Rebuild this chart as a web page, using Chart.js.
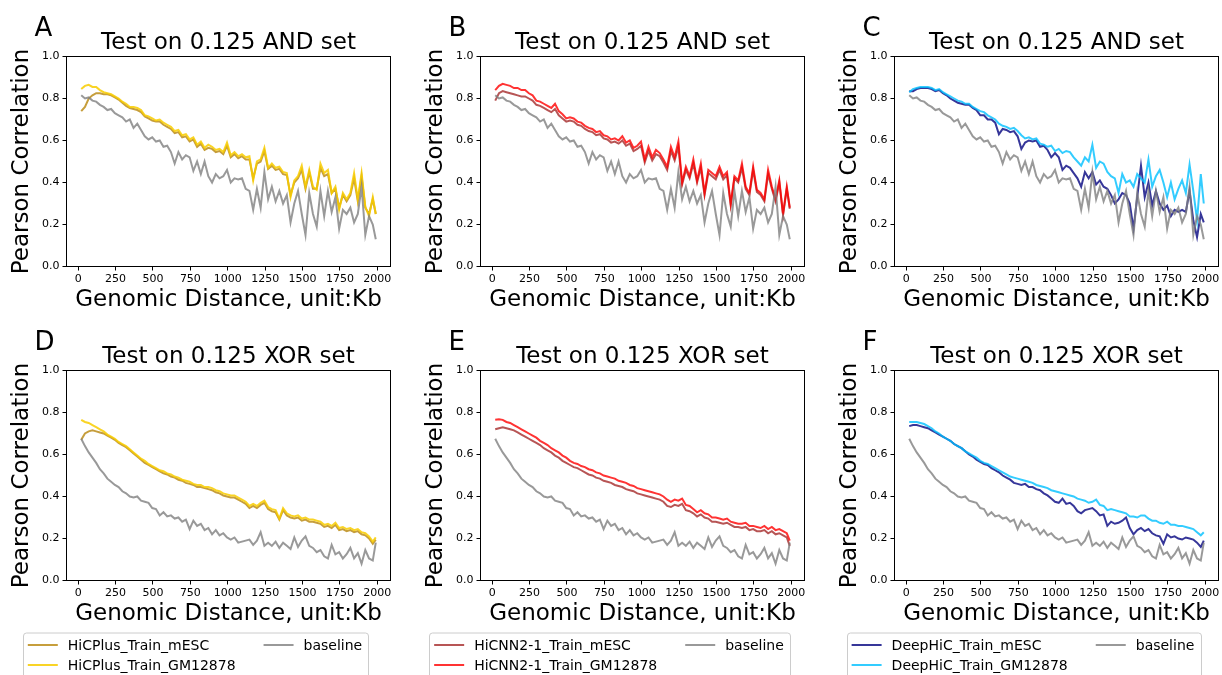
<!DOCTYPE html>
<html>
<head>
<meta charset="utf-8">
<script src="https://cdn.jsdelivr.net/npm/chart.js@4.4.1/dist/chart.umd.min.js"></script>
<style>
  body { margin: 0; background: #fff; }
  #fig { position: relative; width: 1222px; height: 675px; overflow: hidden; background: #fff; }
  #fig canvas { position: absolute; }
</style>
</head>
<body>
<div id="fig"></div>
<script>
// genomic distance (kb) of each sample
const DIST_KB = [20,45,70,95,120,145,170,195,220,245, 270,295,320,345,370,395,420,445,470,495,
  520,545,570,595,620,645,670,695,720,745, 770,795,820,845,870,895,920,945,970,995,
  1020,1045,1070,1095,1120,1145,1170,1195,1220,1245, 1270,1295,1320,1345,1370,1395,1420,1445,1470,1495,
  1520,1545,1570,1595,1620,1645,1670,1695,1720,1745, 1770,1795,1820,1845,1870,1895,1920,1945,1970,1990];

const X_TICKS = [0, 250, 500, 750, 1000, 1250, 1500, 1750, 2000];
const X_TICK_LABELS = ['0', '250', '500', '750', '1000', '1250', '1500', '1750', '2000'];
const Y_TICKS = [0, 0.2, 0.4, 0.6, 0.8, 1.0];
const Y_TICK_LABELS = ['0.0', '0.2', '0.4', '0.6', '0.8', '1.0'];

// AND set
const AND_BASELINE = [0.815,0.80,0.805,0.79,0.785,0.77,0.76,0.745,0.75,0.73,
  0.72,0.71,0.69,0.70,0.66,0.68,0.65,0.62,0.605,0.615,
  0.595,0.60,0.57,0.575,0.545,0.49,0.545,0.51,0.53,0.52,
  0.455,0.50,0.44,0.50,0.43,0.40,0.44,0.42,0.43,0.46,
  0.40,0.42,0.415,0.42,0.37,0.36,0.27,0.37,0.28,0.45,
  0.32,0.38,0.31,0.36,0.30,0.34,0.21,0.30,0.36,0.25,
  0.15,0.35,0.25,0.19,0.36,0.24,0.36,0.26,0.33,0.18,
  0.27,0.25,0.28,0.21,0.25,0.38,0.15,0.24,0.20,0.13];
const AND_HICPLUS_MESC = [0.74,0.76,0.80,0.815,0.825,0.825,0.82,0.82,0.815,0.805,
  0.795,0.78,0.765,0.755,0.75,0.745,0.735,0.715,0.705,0.695,
  0.69,0.69,0.675,0.665,0.655,0.635,0.64,0.615,0.62,0.595,
  0.605,0.57,0.585,0.555,0.565,0.56,0.545,0.55,0.535,0.575,
  0.52,0.535,0.515,0.525,0.51,0.51,0.42,0.49,0.50,0.55,
  0.465,0.48,0.46,0.465,0.44,0.435,0.34,0.40,0.42,0.46,
  0.37,0.45,0.37,0.37,0.47,0.43,0.44,0.35,0.37,0.28,
  0.34,0.31,0.34,0.42,0.31,0.43,0.28,0.25,0.32,0.25];
const AND_HICPLUS_GM = [0.845,0.86,0.865,0.855,0.855,0.84,0.83,0.825,0.82,0.81,
  0.80,0.785,0.775,0.76,0.76,0.755,0.745,0.72,0.715,0.705,
  0.695,0.70,0.685,0.675,0.665,0.645,0.65,0.625,0.63,0.605,
  0.615,0.58,0.595,0.565,0.58,0.57,0.555,0.56,0.545,0.59,
  0.53,0.545,0.525,0.535,0.52,0.525,0.41,0.50,0.51,0.565,
  0.47,0.49,0.47,0.475,0.45,0.445,0.33,0.41,0.43,0.48,
  0.38,0.46,0.38,0.365,0.49,0.445,0.46,0.35,0.38,0.27,
  0.35,0.32,0.35,0.445,0.32,0.445,0.285,0.24,0.33,0.25];
const AND_HICNN_MESC = [0.79,0.825,0.835,0.83,0.825,0.82,0.815,0.81,0.81,0.80,
  0.79,0.77,0.765,0.755,0.745,0.735,0.75,0.72,0.705,0.69,
  0.695,0.69,0.675,0.67,0.655,0.645,0.64,0.625,0.63,0.61,
  0.605,0.59,0.595,0.585,0.60,0.575,0.585,0.55,0.56,0.575,
  0.495,0.55,0.505,0.535,0.525,0.495,0.46,0.55,0.505,0.57,
  0.39,0.46,0.42,0.49,0.40,0.47,0.34,0.445,0.43,0.415,
  0.46,0.415,0.435,0.29,0.42,0.40,0.47,0.37,0.34,0.46,
  0.355,0.34,0.31,0.44,0.37,0.31,0.40,0.245,0.37,0.275];
const AND_HICNN_GM = [0.84,0.86,0.87,0.865,0.86,0.85,0.85,0.84,0.84,0.825,
  0.815,0.79,0.785,0.775,0.765,0.755,0.775,0.74,0.725,0.705,
  0.71,0.705,0.69,0.685,0.67,0.66,0.655,0.64,0.645,0.625,
  0.62,0.605,0.61,0.60,0.62,0.59,0.60,0.565,0.575,0.595,
  0.51,0.57,0.52,0.555,0.54,0.51,0.475,0.57,0.52,0.595,
  0.40,0.475,0.43,0.51,0.41,0.49,0.35,0.46,0.445,0.43,
  0.475,0.43,0.45,0.30,0.43,0.41,0.49,0.38,0.35,0.475,
  0.365,0.35,0.32,0.46,0.38,0.32,0.41,0.25,0.38,0.28];
const AND_DEEPHIC_MESC = [0.835,0.835,0.845,0.85,0.85,0.85,0.845,0.835,0.84,0.825,
  0.815,0.80,0.79,0.78,0.775,0.77,0.77,0.755,0.745,0.72,
  0.72,0.70,0.70,0.685,0.63,0.655,0.65,0.64,0.645,0.62,
  0.56,0.59,0.60,0.595,0.60,0.57,0.575,0.555,0.52,0.54,
  0.52,0.46,0.48,0.47,0.445,0.42,0.38,0.45,0.42,0.45,
  0.39,0.41,0.38,0.37,0.34,0.30,0.32,0.35,0.34,0.30,
  0.18,0.33,0.48,0.33,0.40,0.29,0.36,0.30,0.27,0.29,
  0.24,0.27,0.26,0.27,0.26,0.36,0.22,0.14,0.25,0.21];
const AND_DEEPHIC_GM = [0.83,0.845,0.85,0.855,0.855,0.855,0.85,0.84,0.845,0.83,
  0.82,0.81,0.80,0.79,0.785,0.775,0.775,0.76,0.75,0.74,
  0.735,0.72,0.71,0.70,0.68,0.67,0.665,0.655,0.66,0.645,
  0.625,0.61,0.615,0.605,0.61,0.585,0.58,0.57,0.575,0.55,
  0.56,0.54,0.55,0.545,0.52,0.50,0.48,0.52,0.50,0.58,
  0.47,0.50,0.49,0.45,0.43,0.42,0.35,0.44,0.40,0.41,
  0.38,0.44,0.42,0.40,0.51,0.38,0.43,0.46,0.40,0.33,
  0.40,0.32,0.37,0.41,0.35,0.485,0.36,0.22,0.44,0.30];

// XOR set
const XOR_BASELINE = [0.675,0.64,0.61,0.585,0.56,0.53,0.51,0.485,0.47,0.455,
  0.445,0.425,0.415,0.40,0.395,0.40,0.38,0.375,0.37,0.345,
  0.34,0.31,0.325,0.305,0.31,0.295,0.30,0.28,0.29,0.245,
  0.285,0.26,0.27,0.24,0.25,0.22,0.24,0.215,0.225,0.205,
  0.195,0.205,0.18,0.185,0.19,0.195,0.17,0.19,0.23,0.165,
  0.18,0.165,0.185,0.155,0.18,0.165,0.15,0.205,0.16,0.19,
  0.21,0.165,0.155,0.135,0.145,0.115,0.105,0.17,0.125,0.135,
  0.105,0.125,0.155,0.105,0.13,0.08,0.145,0.105,0.095,0.18];
const XOR_HICPLUS_MESC = [0.67,0.70,0.71,0.715,0.71,0.705,0.70,0.69,0.68,0.67,
  0.655,0.645,0.635,0.62,0.605,0.59,0.575,0.56,0.55,0.54,
  0.53,0.52,0.51,0.505,0.495,0.49,0.48,0.475,0.465,0.46,
  0.455,0.445,0.445,0.44,0.435,0.43,0.42,0.415,0.405,0.40,
  0.395,0.395,0.385,0.375,0.365,0.345,0.355,0.345,0.36,0.37,
  0.34,0.33,0.325,0.29,0.335,0.31,0.30,0.295,0.30,0.285,
  0.29,0.28,0.28,0.275,0.27,0.255,0.26,0.25,0.265,0.24,
  0.245,0.235,0.24,0.23,0.235,0.22,0.215,0.20,0.175,0.195];
const XOR_HICPLUS_GM = [0.765,0.755,0.75,0.74,0.73,0.72,0.71,0.695,0.685,0.675,
  0.66,0.65,0.64,0.625,0.61,0.595,0.58,0.57,0.555,0.545,
  0.535,0.525,0.52,0.51,0.505,0.495,0.49,0.48,0.475,0.47,
  0.46,0.455,0.455,0.445,0.445,0.44,0.43,0.425,0.415,0.41,
  0.405,0.405,0.395,0.385,0.375,0.355,0.365,0.355,0.37,0.38,
  0.35,0.34,0.335,0.295,0.345,0.32,0.31,0.305,0.31,0.295,
  0.30,0.29,0.29,0.285,0.28,0.265,0.27,0.26,0.275,0.25,
  0.255,0.245,0.25,0.24,0.245,0.23,0.225,0.21,0.185,0.205];
const XOR_HICNN_MESC = [0.72,0.725,0.73,0.725,0.72,0.715,0.705,0.695,0.685,0.675,
  0.665,0.655,0.645,0.63,0.62,0.61,0.595,0.585,0.57,0.56,
  0.55,0.54,0.535,0.525,0.515,0.505,0.50,0.49,0.485,0.475,
  0.47,0.465,0.455,0.45,0.445,0.435,0.43,0.425,0.415,0.41,
  0.405,0.40,0.395,0.39,0.385,0.375,0.355,0.35,0.36,0.355,
  0.365,0.335,0.33,0.32,0.305,0.315,0.30,0.295,0.28,0.28,
  0.275,0.27,0.275,0.265,0.255,0.255,0.25,0.255,0.24,0.245,
  0.235,0.235,0.24,0.225,0.235,0.22,0.225,0.215,0.205,0.165];
const XOR_HICNN_GM = [0.765,0.768,0.765,0.755,0.75,0.74,0.73,0.72,0.71,0.70,
  0.69,0.68,0.665,0.655,0.645,0.63,0.62,0.61,0.595,0.585,
  0.57,0.56,0.555,0.545,0.54,0.53,0.525,0.515,0.51,0.50,
  0.495,0.49,0.485,0.475,0.47,0.465,0.455,0.45,0.44,0.435,
  0.43,0.425,0.42,0.415,0.41,0.40,0.385,0.375,0.385,0.38,
  0.39,0.36,0.355,0.34,0.325,0.335,0.32,0.315,0.30,0.30,
  0.295,0.29,0.295,0.28,0.275,0.27,0.27,0.275,0.26,0.26,
  0.255,0.25,0.26,0.245,0.255,0.24,0.245,0.235,0.225,0.19];
const XOR_DEEPHIC_MESC = [0.735,0.74,0.74,0.735,0.73,0.725,0.715,0.705,0.695,0.685,
  0.675,0.665,0.65,0.64,0.63,0.615,0.60,0.59,0.575,0.565,
  0.555,0.55,0.535,0.525,0.515,0.50,0.49,0.48,0.465,0.46,
  0.455,0.46,0.445,0.445,0.435,0.43,0.415,0.405,0.39,0.375,
  0.37,0.39,0.365,0.37,0.355,0.33,0.32,0.335,0.34,0.345,
  0.33,0.31,0.315,0.26,0.28,0.27,0.275,0.285,0.30,0.25,
  0.22,0.24,0.25,0.235,0.245,0.225,0.215,0.21,0.175,0.22,
  0.205,0.21,0.20,0.195,0.205,0.20,0.195,0.18,0.16,0.19];
const XOR_DEEPHIC_GM = [0.755,0.755,0.755,0.75,0.745,0.735,0.725,0.71,0.70,0.685,
  0.675,0.665,0.65,0.64,0.63,0.615,0.605,0.595,0.585,0.57,
  0.56,0.555,0.545,0.535,0.525,0.515,0.505,0.495,0.49,0.485,
  0.48,0.475,0.47,0.465,0.455,0.45,0.445,0.44,0.43,0.425,
  0.42,0.415,0.41,0.405,0.40,0.39,0.385,0.38,0.37,0.375,
  0.385,0.36,0.355,0.335,0.34,0.335,0.33,0.325,0.32,0.305,
  0.305,0.30,0.31,0.31,0.295,0.285,0.285,0.275,0.27,0.28,
  0.265,0.265,0.26,0.26,0.255,0.25,0.245,0.23,0.215,0.23];

const FONT = '"DejaVu Sans", "Liberation Sans", sans-serif';
const X_TITLE = 'Genomic Distance, unit:Kb';
const Y_TITLE = 'Pearson Correlation';
const GRAY = 'rgba(128,128,128,0.8)';

// panel layout: canvas box and plot box in page pixels
const panels = [
  { id: 'A', title: 'Test on 0.125 AND set', canvas: [0, 0, 410, 320], plot: [66.5, 390.5, 56.5, 266.5],
    mesc: ['HiCPlus_Train_mESC', AND_HICPLUS_MESC, 'rgba(184,134,11,0.8)'],
    gm: ['HiCPlus_Train_GM12878', AND_HICPLUS_GM, 'rgba(248,204,0,0.85)'], base: AND_BASELINE },
  { id: 'B', title: 'Test on 0.125 AND set', canvas: [410, 0, 410, 320], plot: [480.5, 804.5, 56.5, 266.5],
    mesc: ['HiCNN2-1_Train_mESC', AND_HICNN_MESC, 'rgba(165,42,42,0.8)'],
    gm: ['HiCNN2-1_Train_GM12878', AND_HICNN_GM, 'rgba(255,0,0,0.8)'], base: AND_BASELINE },
  { id: 'C', title: 'Test on 0.125 AND set', canvas: [820, 0, 402, 320], plot: [894.5, 1218.5, 56.5, 266.5],
    mesc: ['DeepHiC_Train_mESC', AND_DEEPHIC_MESC, 'rgba(10,10,130,0.82)'],
    gm: ['DeepHiC_Train_GM12878', AND_DEEPHIC_GM, 'rgba(0,191,255,0.8)'], base: AND_BASELINE },
  { id: 'D', title: 'Test on 0.125 XOR set', canvas: [0, 320, 410, 355], plot: [66.5, 390.5, 370.5, 580.5], legend: true,
    mesc: ['HiCPlus_Train_mESC', XOR_HICPLUS_MESC, 'rgba(184,134,11,0.8)'],
    gm: ['HiCPlus_Train_GM12878', XOR_HICPLUS_GM, 'rgba(248,204,0,0.85)'], base: XOR_BASELINE },
  { id: 'E', title: 'Test on 0.125 XOR set', canvas: [410, 320, 410, 355], plot: [480.5, 804.5, 370.5, 580.5], legend: true,
    mesc: ['HiCNN2-1_Train_mESC', XOR_HICNN_MESC, 'rgba(165,42,42,0.8)'],
    gm: ['HiCNN2-1_Train_GM12878', XOR_HICNN_GM, 'rgba(255,0,0,0.8)'], base: XOR_BASELINE },
  { id: 'F', title: 'Test on 0.125 XOR set', canvas: [820, 320, 402, 355], plot: [894.5, 1218.5, 370.5, 580.5], legend: true,
    mesc: ['DeepHiC_Train_mESC', XOR_DEEPHIC_MESC, 'rgba(10,10,130,0.82)'],
    gm: ['DeepHiC_Train_GM12878', XOR_DEEPHIC_GM, 'rgba(0,191,255,0.8)'], base: XOR_BASELINE }
];

// frame, panel letter, titles, axis titles and the boxed legend
const decorate = {
  id: 'decorate',
  afterDraw(chart, args, opts) {
    const ctx = chart.ctx, a = chart.chartArea;
    const cx = (a.left + a.right) / 2;
    ctx.save();
    ctx.strokeStyle = '#000';
    ctx.lineWidth = 1;
    ctx.strokeRect(a.left, a.top, a.right - a.left, a.bottom - a.top);

    ctx.fillStyle = '#000';
    ctx.textBaseline = 'alphabetic';
    ctx.textAlign = 'left';
    ctx.font = '26px ' + FONT;
    ctx.fillText(opts.letter, a.left - 32, a.top - 21);

    ctx.textAlign = 'center';
    ctx.font = '23px ' + FONT;
    ctx.fillText(opts.title, cx, a.top - 7.5);
    ctx.textBaseline = 'middle';
    ctx.fillText(X_TITLE, cx, a.bottom + 34);
    ctx.save();
    ctx.translate(a.left - 44.5, (a.top + a.bottom) / 2);
    ctx.rotate(-Math.PI / 2);
    ctx.fillText(Y_TITLE, 0, 0);
    ctx.restore();

    if (opts.legend) {
      const ds = chart.data.datasets;
      ctx.font = '14px ' + FONT;
      const w1 = Math.max(ctx.measureText(ds[0].label).width, ctx.measureText(ds[1].label).width);
      const w2 = ctx.measureText(ds[2].label).width;
      const boxW = 5 + 30 + 10 + w1 + 28 + 30 + 10 + w2 + 6;
      const left = cx - 33 - boxW / 2;
      const top = a.bottom + 52.5;
      ctx.beginPath();
      ctx.roundRect(Math.round(left) + 0.5, top, Math.round(boxW), 60, 3);
      ctx.fillStyle = '#fff';
      ctx.fill();
      ctx.strokeStyle = '#cccccc';
      ctx.stroke();
      const items = [
        [ds[0], left + 5, a.bottom + 64.5],
        [ds[1], left + 5, a.bottom + 84.5],
        [ds[2], left + 45 + w1 + 28, a.bottom + 64.5]
      ];
      ctx.textAlign = 'left';
      ctx.textBaseline = 'middle';
      items.forEach(([d, x, y]) => {
        ctx.strokeStyle = d.borderColor;
        ctx.lineWidth = 2;
        ctx.beginPath();
        ctx.moveTo(x, y);
        ctx.lineTo(x + 30, y);
        ctx.stroke();
        ctx.fillStyle = '#000';
        ctx.fillText(d.label, x + 40, y + 1);
      });
    }
    ctx.restore();
  }
};

function toPoints(values) {
  return DIST_KB.map((kb, i) => ({ x: kb, y: values[i] }));
}

const fig = document.getElementById('fig');
panels.forEach(p => {
  const [cx, cy, cw, ch] = p.canvas;
  const [pl, pr, pt, pb] = p.plot;
  const canvas = document.createElement('canvas');
  canvas.width = cw;
  canvas.height = ch;
  canvas.style.left = cx + 'px';
  canvas.style.top = cy + 'px';
  fig.appendChild(canvas);

  const line = (label, values, color, order) => ({
    label, data: toPoints(values), borderColor: color, backgroundColor: color,
    borderWidth: 2, pointRadius: 0, tension: 0, fill: false, order
  });

  new Chart(canvas, {
    type: 'line',
    data: {
      datasets: [
        line(p.mesc[0], p.mesc[1], p.mesc[2], 2),
        line(p.gm[0], p.gm[1], p.gm[2], 1),
        line('baseline', p.base, GRAY, 0)
      ]
    },
    options: {
      responsive: false,
      animation: false,
      events: [],
      layout: { padding: { left: 0, top: pt - cy, right: cx + cw - pr, bottom: 0 } },
      plugins: {
        legend: { display: false },
        tooltip: { enabled: false },
        decorate: { letter: p.id, title: p.title, legend: !!p.legend }
      },
      scales: {
        x: {
          type: 'linear',
          min: -78.5,
          max: 2088.5,
          afterBuildTicks: s => { s.ticks = X_TICKS.map(v => ({ value: v })); },
          afterFit: s => { s.height = cy + ch - pb; },
          ticks: {
            autoSkip: false, maxRotation: 0, padding: 2, color: '#000',
            font: { family: FONT, size: 11 },
            callback: v => X_TICK_LABELS[X_TICKS.indexOf(v)]
          },
          grid: { drawOnChartArea: false, drawTicks: true, tickLength: 4, color: '#000' },
          border: { display: true, color: '#000' }
        },
        y: {
          min: 0,
          max: 1,
          afterBuildTicks: s => { s.ticks = Y_TICKS.map(v => ({ value: v })); },
          afterFit: s => { s.width = pl - cx; },
          ticks: {
            autoSkip: false, padding: 3, color: '#000',
            font: { family: FONT, size: 11 },
            callback: v => Y_TICK_LABELS[Y_TICKS.indexOf(v)]
          },
          grid: { drawOnChartArea: false, drawTicks: true, tickLength: 4, color: '#000' },
          border: { display: true, color: '#000' }
        }
      }
    },
    plugins: [decorate]
  });
});
</script>
</body>
</html>
